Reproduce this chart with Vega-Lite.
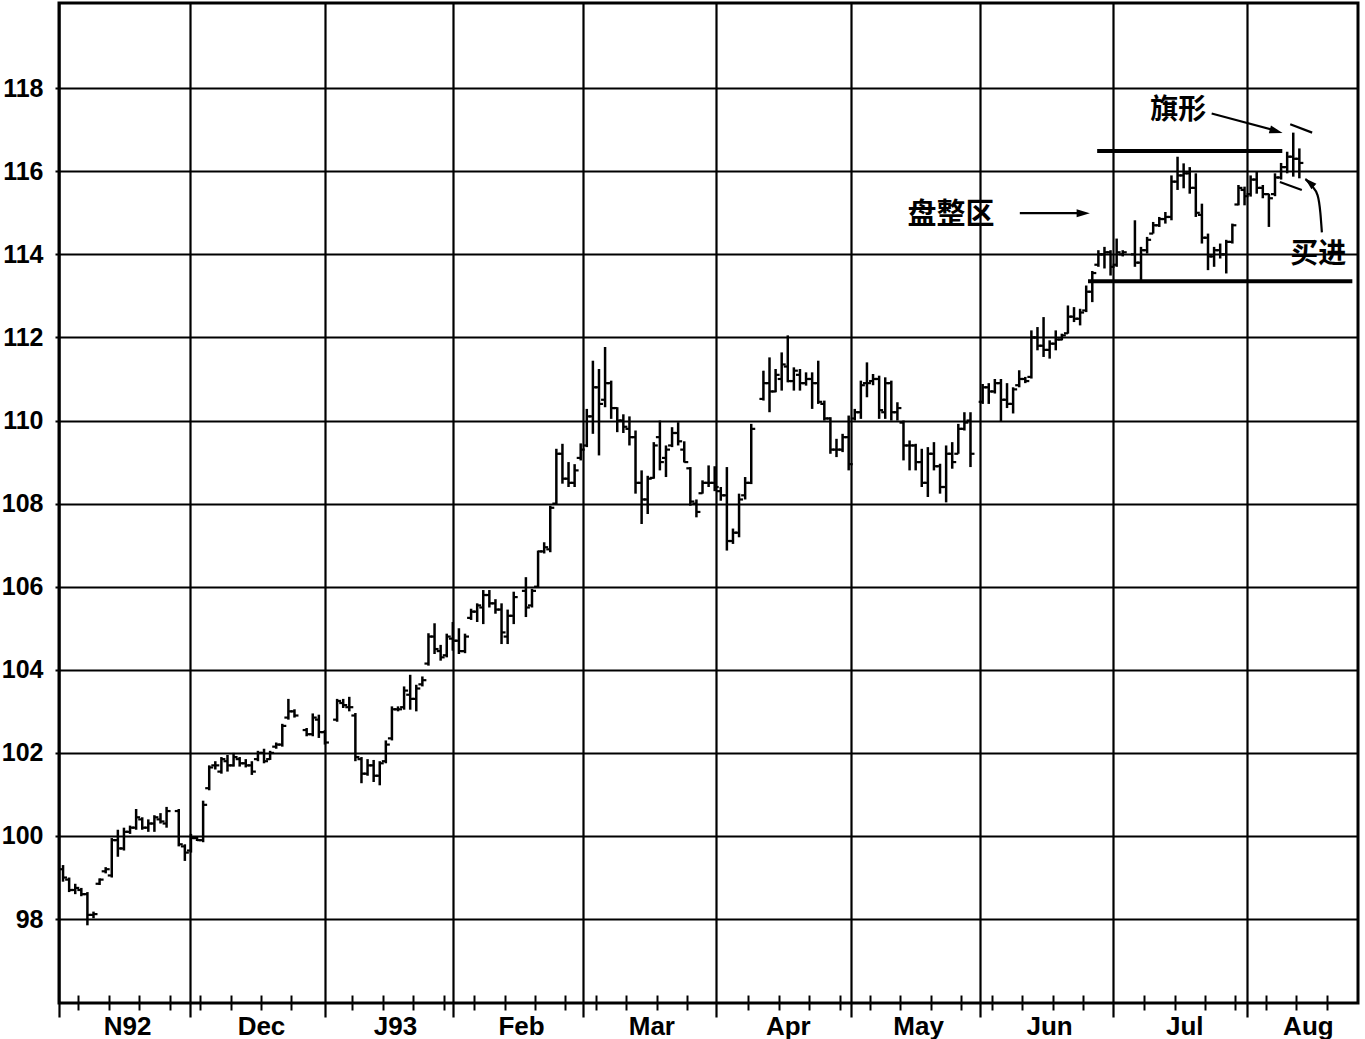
{
  "$schema": "https://vega.github.io/schema/vega-lite/v6.json",
  "width": 1299,
  "height": 1000,
  "autosize": {"type": "none"},
  "padding": {"left": 59, "top": 3, "right": 7, "bottom": 36},
  "background": "white",
  "config": {
    "view": {"stroke": "#000", "strokeWidth": 3},
    "axis": {"tickColor": "#000", "gridColor": "#000", "labelColor": "#000", "domain": false}
  },
  "datasets": {
    "bars": [
      {"w":0,"o":99.2,"h":99.3,"l":98.9,"c":99.0},
      {"w":1,"o":98.95,"h":99.0,"l":98.65,"c":98.7},
      {"w":2,"o":98.7,"h":98.85,"l":98.6,"c":98.75},
      {"w":3,"o":98.7,"h":98.75,"l":98.55,"c":98.6},
      {"w":4,"o":98.6,"h":98.65,"l":97.85,"c":98.1},
      {"w":5,"o":98.1,"h":98.18,"l":98.02,"c":98.12},
      {"w":6,"o":98.85,"h":98.98,"l":98.82,"c":98.95},
      {"w":7,"o":99.15,"h":99.25,"l":99.1,"c":99.2},
      {"w":8,"o":99.05,"h":99.95,"l":99.0,"c":99.9},
      {"w":9,"o":99.9,"h":100.15,"l":99.5,"c":99.7},
      {"w":10,"o":99.7,"h":100.2,"l":99.65,"c":100.1},
      {"w":11,"o":100.1,"h":100.25,"l":100.05,"c":100.2},
      {"w":12,"o":100.2,"h":100.65,"l":100.15,"c":100.45},
      {"w":13,"o":100.4,"h":100.45,"l":100.15,"c":100.2},
      {"w":14,"o":100.2,"h":100.4,"l":100.1,"c":100.3},
      {"w":15,"o":100.3,"h":100.5,"l":100.1,"c":100.45},
      {"w":16,"o":100.4,"h":100.55,"l":100.3,"c":100.35},
      {"w":17,"o":100.3,"h":100.7,"l":100.2,"c":100.6},
      {"w":19,"o":100.6,"h":100.65,"l":99.75,"c":99.8},
      {"w":20,"o":99.75,"h":99.8,"l":99.4,"c":99.6},
      {"w":21,"o":99.65,"h":100.05,"l":99.6,"c":99.95},
      {"w":22,"o":99.95,"h":100.0,"l":99.88,"c":99.9},
      {"w":23,"o":99.9,"h":100.85,"l":99.85,"c":100.75},
      {"w":24,"o":101.15,"h":101.7,"l":101.1,"c":101.65},
      {"w":25,"o":101.7,"h":101.8,"l":101.6,"c":101.7},
      {"w":26,"o":101.55,"h":101.9,"l":101.5,"c":101.85},
      {"w":27,"o":101.8,"h":101.95,"l":101.55,"c":101.7},
      {"w":28,"o":101.7,"h":102.0,"l":101.67,"c":101.9},
      {"w":29,"o":101.85,"h":101.9,"l":101.67,"c":101.75},
      {"w":30,"o":101.75,"h":101.85,"l":101.65,"c":101.7},
      {"w":31,"o":101.7,"h":101.8,"l":101.47,"c":101.55},
      {"w":32,"o":101.85,"h":102.05,"l":101.8,"c":102.0},
      {"w":33,"o":102.0,"h":102.1,"l":101.75,"c":101.8},
      {"w":34,"o":101.85,"h":102.05,"l":101.83,"c":102.0},
      {"w":35,"o":102.15,"h":102.25,"l":102.1,"c":102.2},
      {"w":36,"o":102.2,"h":102.7,"l":102.15,"c":102.65},
      {"w":37,"o":102.85,"h":103.3,"l":102.8,"c":103.0},
      {"w":38,"o":103.0,"h":103.05,"l":102.85,"c":102.9},
      {"w":40,"o":102.55,"h":102.6,"l":102.4,"c":102.45},
      {"w":41,"o":102.45,"h":102.95,"l":102.4,"c":102.85},
      {"w":42,"o":102.8,"h":102.92,"l":102.36,"c":102.5},
      {"w":43,"o":102.5,"h":102.55,"l":102.2,"c":102.25},
      {"w":45,"o":102.8,"h":103.3,"l":102.75,"c":103.25},
      {"w":46,"o":103.2,"h":103.3,"l":103.08,"c":103.15},
      {"w":47,"o":103.1,"h":103.35,"l":103.0,"c":103.1},
      {"w":48,"o":102.9,"h":102.96,"l":101.8,"c":101.9},
      {"w":49,"o":101.85,"h":101.9,"l":101.27,"c":101.5},
      {"w":50,"o":101.5,"h":101.85,"l":101.45,"c":101.7},
      {"w":51,"o":101.7,"h":101.83,"l":101.3,"c":101.45},
      {"w":52,"o":101.45,"h":101.8,"l":101.22,"c":101.75},
      {"w":53,"o":101.8,"h":102.3,"l":101.75,"c":102.2},
      {"w":54,"o":102.35,"h":103.12,"l":102.3,"c":103.05},
      {"w":55,"o":103.05,"h":103.12,"l":103.0,"c":103.05},
      {"w":56,"o":103.1,"h":103.6,"l":103.04,"c":103.5},
      {"w":57,"o":103.4,"h":103.88,"l":103.04,"c":103.3},
      {"w":58,"o":103.3,"h":103.64,"l":103.0,"c":103.55},
      {"w":59,"o":103.65,"h":103.84,"l":103.6,"c":103.75},
      {"w":60,"o":104.15,"h":104.88,"l":104.1,"c":104.8},
      {"w":61,"o":104.8,"h":105.12,"l":104.38,"c":104.5},
      {"w":62,"o":104.45,"h":104.6,"l":104.22,"c":104.3},
      {"w":63,"o":104.35,"h":104.87,"l":104.3,"c":104.8},
      {"w":64,"o":104.75,"h":105.15,"l":104.46,"c":104.7},
      {"w":65,"o":104.7,"h":105.0,"l":104.38,"c":104.45},
      {"w":66,"o":104.45,"h":104.87,"l":104.4,"c":104.8},
      {"w":67,"o":105.25,"h":105.47,"l":105.2,"c":105.4},
      {"w":68,"o":105.4,"h":105.6,"l":105.15,"c":105.55},
      {"w":69,"o":105.5,"h":105.92,"l":105.1,"c":105.8},
      {"w":70,"o":105.8,"h":105.92,"l":105.5,"c":105.6},
      {"w":71,"o":105.6,"h":105.7,"l":105.35,"c":105.45},
      {"w":72,"o":105.45,"h":105.6,"l":104.62,"c":104.9},
      {"w":73,"o":104.8,"h":105.45,"l":104.62,"c":105.3},
      {"w":74,"o":105.3,"h":105.88,"l":105.1,"c":105.75},
      {"w":76,"o":105.9,"h":106.23,"l":105.27,"c":105.5},
      {"w":77,"o":105.55,"h":105.95,"l":105.5,"c":105.9},
      {"w":78,"o":106.0,"h":106.87,"l":105.99,"c":106.85},
      {"w":79,"o":106.85,"h":107.07,"l":106.8,"c":106.95},
      {"w":80,"o":106.9,"h":107.95,"l":106.83,"c":107.9},
      {"w":81,"o":108.0,"h":109.32,"l":107.99,"c":109.2},
      {"w":82,"o":109.2,"h":109.44,"l":108.48,"c":108.6},
      {"w":83,"o":108.6,"h":109.0,"l":108.4,"c":108.5},
      {"w":84,"o":108.5,"h":108.95,"l":108.4,"c":108.8},
      {"w":85,"o":109.1,"h":109.45,"l":109.04,"c":109.3},
      {"w":86,"o":109.4,"h":110.28,"l":109.36,"c":110.1},
      {"w":87,"o":110.1,"h":111.44,"l":109.68,"c":110.8},
      {"w":88,"o":110.8,"h":111.24,"l":109.16,"c":110.4},
      {"w":89,"o":110.5,"h":111.77,"l":110.32,"c":110.9},
      {"w":90,"o":110.9,"h":110.96,"l":110.04,"c":110.3},
      {"w":91,"o":110.3,"h":110.32,"l":109.72,"c":110.0},
      {"w":92,"o":110.0,"h":110.15,"l":109.7,"c":109.85},
      {"w":93,"o":109.8,"h":110.1,"l":109.4,"c":109.6},
      {"w":94,"o":109.6,"h":109.76,"l":108.24,"c":108.5},
      {"w":95,"o":108.5,"h":108.8,"l":107.51,"c":108.1},
      {"w":96,"o":108.1,"h":108.67,"l":107.75,"c":108.6},
      {"w":97,"o":108.62,"h":109.48,"l":108.6,"c":109.4},
      {"w":98,"o":109.6,"h":110.0,"l":108.8,"c":109.0},
      {"w":99,"o":109.1,"h":109.4,"l":108.64,"c":109.3},
      {"w":100,"o":109.4,"h":109.84,"l":109.36,"c":109.7},
      {"w":101,"o":109.7,"h":109.96,"l":109.4,"c":109.5},
      {"w":102,"o":109.3,"h":109.5,"l":108.99,"c":109.0},
      {"w":103,"o":108.85,"h":108.88,"l":107.95,"c":108.05},
      {"w":104,"o":108.0,"h":108.1,"l":107.67,"c":107.8},
      {"w":105,"o":108.25,"h":108.56,"l":108.24,"c":108.5},
      {"w":106,"o":108.5,"h":108.92,"l":108.4,"c":108.5},
      {"w":107,"o":108.5,"h":108.9,"l":108.3,"c":108.4},
      {"w":108,"o":108.3,"h":108.4,"l":108.07,"c":108.2},
      {"w":109,"o":108.2,"h":108.88,"l":106.87,"c":107.1},
      {"w":110,"o":107.1,"h":107.4,"l":107.03,"c":107.3},
      {"w":111,"o":107.3,"h":108.24,"l":107.19,"c":108.1},
      {"w":112,"o":108.2,"h":108.64,"l":108.1,"c":108.5},
      {"w":113,"o":108.5,"h":109.92,"l":108.47,"c":109.8},
      {"w":115,"o":110.52,"h":111.2,"l":110.48,"c":110.9},
      {"w":116,"o":110.9,"h":111.52,"l":110.2,"c":110.7},
      {"w":117,"o":110.7,"h":111.24,"l":110.68,"c":111.1},
      {"w":118,"o":111.0,"h":111.64,"l":110.72,"c":111.35},
      {"w":119,"o":111.3,"h":112.05,"l":110.92,"c":110.95},
      {"w":120,"o":110.95,"h":111.28,"l":110.72,"c":111.2},
      {"w":121,"o":111.1,"h":111.24,"l":110.72,"c":110.9},
      {"w":122,"o":110.9,"h":111.16,"l":110.84,"c":111.0},
      {"w":123,"o":111.0,"h":111.16,"l":110.28,"c":110.9},
      {"w":124,"o":110.9,"h":111.44,"l":110.4,"c":110.45},
      {"w":125,"o":110.4,"h":110.48,"l":110.0,"c":110.05},
      {"w":126,"o":110.05,"h":110.08,"l":109.2,"c":109.3},
      {"w":127,"o":109.3,"h":109.56,"l":109.12,"c":109.3},
      {"w":128,"o":109.3,"h":109.68,"l":109.24,"c":109.6},
      {"w":129,"o":109.6,"h":110.12,"l":108.8,"c":108.95},
      {"w":130,"o":110.05,"h":110.28,"l":110.0,"c":110.2},
      {"w":131,"o":110.2,"h":110.96,"l":110.04,"c":110.85},
      {"w":132,"o":110.9,"h":111.4,"l":110.56,"c":110.9},
      {"w":133,"o":110.95,"h":111.12,"l":110.85,"c":111.0},
      {"w":134,"o":111.0,"h":111.08,"l":110.04,"c":110.25},
      {"w":135,"o":110.2,"h":111.04,"l":110.04,"c":110.9},
      {"w":136,"o":110.9,"h":110.96,"l":110.0,"c":110.2},
      {"w":137,"o":110.2,"h":110.44,"l":110.0,"c":110.3},
      {"w":138,"o":109.95,"h":110.0,"l":109.04,"c":109.4},
      {"w":139,"o":109.4,"h":109.52,"l":108.8,"c":109.4},
      {"w":140,"o":109.4,"h":109.44,"l":108.8,"c":109.0},
      {"w":141,"o":109.0,"h":109.32,"l":108.4,"c":108.5},
      {"w":142,"o":108.5,"h":109.36,"l":108.16,"c":109.2},
      {"w":143,"o":109.2,"h":109.48,"l":108.8,"c":108.9},
      {"w":144,"o":108.9,"h":108.96,"l":108.24,"c":108.4},
      {"w":145,"o":108.4,"h":109.4,"l":108.03,"c":109.2},
      {"w":146,"o":109.2,"h":109.48,"l":108.84,"c":109.0},
      {"w":147,"o":109.2,"h":109.92,"l":109.2,"c":109.8},
      {"w":148,"o":109.8,"h":110.2,"l":109.76,"c":109.95},
      {"w":149,"o":110.0,"h":110.2,"l":108.88,"c":109.2},
      {"w":151,"o":110.45,"h":110.88,"l":110.4,"c":110.8},
      {"w":152,"o":110.8,"h":110.9,"l":110.4,"c":110.7},
      {"w":153,"o":110.7,"h":111.0,"l":110.65,"c":110.9},
      {"w":154,"o":110.9,"h":111.0,"l":109.97,"c":110.5},
      {"w":155,"o":110.5,"h":110.9,"l":110.3,"c":110.4},
      {"w":156,"o":110.4,"h":110.8,"l":110.17,"c":110.75},
      {"w":157,"o":110.85,"h":111.21,"l":110.8,"c":111.0},
      {"w":158,"o":111.0,"h":111.05,"l":110.9,"c":110.95},
      {"w":159,"o":111.05,"h":112.17,"l":111.01,"c":112.0},
      {"w":160,"o":112.0,"h":112.25,"l":111.69,"c":111.8},
      {"w":161,"o":111.8,"h":112.49,"l":111.53,"c":111.7},
      {"w":162,"o":111.7,"h":111.93,"l":111.49,"c":111.85},
      {"w":163,"o":111.85,"h":112.17,"l":111.69,"c":111.95},
      {"w":164,"o":111.95,"h":112.09,"l":111.93,"c":112.05},
      {"w":165,"o":112.1,"h":112.77,"l":112.09,"c":112.5},
      {"w":166,"o":112.5,"h":112.73,"l":112.37,"c":112.45},
      {"w":167,"o":112.45,"h":112.69,"l":112.29,"c":112.6},
      {"w":168,"o":112.65,"h":113.25,"l":112.61,"c":113.1},
      {"w":169,"o":113.1,"h":113.6,"l":112.85,"c":113.55},
      {"w":170,"o":113.75,"h":114.1,"l":113.7,"c":114.0},
      {"w":171,"o":114.0,"h":114.18,"l":113.66,"c":114.05},
      {"w":172,"o":114.05,"h":114.1,"l":113.49,"c":113.7},
      {"w":173,"o":113.75,"h":114.38,"l":113.7,"c":114.05},
      {"w":174,"o":114.0,"h":114.1,"l":113.95,"c":114.05},
      {"w":176,"o":114.0,"h":114.82,"l":113.7,"c":113.8},
      {"w":177,"o":113.8,"h":114.18,"l":113.38,"c":114.1},
      {"w":178,"o":114.1,"h":114.42,"l":114.02,"c":114.35},
      {"w":179,"o":114.5,"h":114.78,"l":114.5,"c":114.7},
      {"w":180,"o":114.7,"h":114.9,"l":114.66,"c":114.85},
      {"w":181,"o":114.85,"h":115.02,"l":114.74,"c":114.9},
      {"w":182,"o":114.9,"h":115.9,"l":114.82,"c":115.75},
      {"w":183,"o":115.75,"h":116.35,"l":115.55,"c":115.9},
      {"w":184,"o":115.9,"h":116.19,"l":115.59,"c":115.95},
      {"w":185,"o":115.95,"h":116.1,"l":115.46,"c":115.6},
      {"w":186,"o":115.6,"h":115.95,"l":114.9,"c":115.0},
      {"w":187,"o":114.95,"h":115.22,"l":114.26,"c":114.4},
      {"w":188,"o":114.4,"h":114.5,"l":113.62,"c":113.95},
      {"w":189,"o":113.95,"h":114.18,"l":113.7,"c":114.1},
      {"w":190,"o":114.1,"h":114.26,"l":113.9,"c":114.0},
      {"w":191,"o":114.0,"h":114.35,"l":113.54,"c":114.3},
      {"w":192,"o":114.3,"h":114.74,"l":114.26,"c":114.7},
      {"w":193,"o":115.2,"h":115.67,"l":115.18,"c":115.6},
      {"w":194,"o":115.55,"h":115.63,"l":115.18,"c":115.4},
      {"w":195,"o":115.45,"h":115.9,"l":115.39,"c":115.8},
      {"w":196,"o":115.8,"h":116.0,"l":115.46,"c":115.6},
      {"w":197,"o":115.6,"h":115.67,"l":115.35,"c":115.45},
      {"w":198,"o":115.45,"h":115.46,"l":114.66,"c":115.35},
      {"w":199,"o":115.45,"h":115.95,"l":115.4,"c":115.85},
      {"w":200,"o":115.85,"h":116.2,"l":115.8,"c":116.1},
      {"w":201,"o":116.1,"h":116.47,"l":115.95,"c":116.35},
      {"w":202,"o":116.35,"h":116.93,"l":115.87,"c":116.3},
      {"w":203,"o":116.3,"h":116.55,"l":115.83,"c":116.2}
    ],
    "curve": [
      {"w":204.0,"v":115.81},
      {"w":205.1,"v":115.64},
      {"w":206.0,"v":115.42},
      {"w":206.45,"v":115.0},
      {"w":206.7,"v":114.53}
    ]
  },
  "resolve": {"axis": {"x": "independent", "y": "independent"}},
  "layer": [
    {
      "data": {"name": "bars"},
      "mark": {"type": "rule", "strokeWidth": 2.5, "color": "#000"},
      "encoding": {
        "x": {"field": "w", "type": "quantitative",
          "scale": {"domain": [-0.665, 212.63], "nice": false, "zero": false},
          "axis": {"orient": "bottom", "title": null, "values": [-0.6, 20.85, 43.0, 64.0, 85.4, 107.2, 129.4, 150.6, 172.4, 194.4],
            "grid": true, "gridColor": "#000", "gridWidth": 2.2, "gridOpacity": 1,
            "labels": false, "ticks": true, "tickSize": 14, "tickWidth": 2.2, "domain": false}},
        "y": {"field": "l", "type": "quantitative",
          "scale": {"domain": [95.98, 120.05], "nice": false, "zero": false},
          "axis": {"title": null, "values": [98, 100, 102, 104, 106, 108, 110, 112, 114, 116, 118],
            "grid": true, "gridColor": "#000", "gridWidth": 2.2, "gridOpacity": 1,
            "tickSize": 4, "tickWidth": 2, "labelFontSize": 25, "labelFont": "Liberation Sans",
            "labelFontWeight": "bold", "labelPadding": 12, "domain": false}},
        "y2": {"field": "h"}
      }
    },
    {
      "data": {"name": "bars"},
      "mark": {"type": "rule", "strokeWidth": 2.2, "color": "#000", "xOffset": -4},
      "encoding": {
        "x": {"field": "w", "type": "quantitative",
          "scale": {"domain": [-0.665, 212.63], "nice": false, "zero": false},
          "axis": {"orient": "bottom", "title": null,
            "values": [2.5,7.5,12.5,17.5,22.5,27.5,32.5,37.5,47.5,52.5,57.5,62.5,67.5,72.5,77.5,82.5,87.5,92.5,97.5,102.5,112.5,117.5,122.5,127.5,132.5,137.5,142.5,147.5,152.5,157.5,162.5,167.5,177.5,182.5,187.5,192.5,197.5,202.5,207.5],
            "grid": false, "labels": false, "ticks": true, "tickSize": 15, "tickWidth": 2, "offset": -8, "domain": false}},
        "x2": {"field": "w"},
        "y": {"field": "o", "type": "quantitative",
          "scale": {"domain": [95.98, 120.05], "nice": false, "zero": false}, "axis": null}
      }
    },
    {
      "data": {"name": "bars"},
      "mark": {"type": "rule", "strokeWidth": 2.2, "color": "#000", "x2Offset": 4},
      "encoding": {
        "x": {"field": "w", "type": "quantitative",
          "scale": {"domain": [-0.665, 212.63], "nice": false, "zero": false},
          "axis": {"orient": "bottom", "title": null,
            "values": [10.5, 32.5, 54.5, 75.2, 96.6, 119.0, 140.4, 161.9, 184.1, 204.4],
            "labelExpr": "datum.value < 20 ? 'N92' : datum.value < 43 ? 'Dec' : datum.value < 64 ? 'J93' : datum.value < 85 ? 'Feb' : datum.value < 107 ? 'Mar' : datum.value < 129 ? 'Apr' : datum.value < 150 ? 'May' : datum.value < 172 ? 'Jun' : datum.value < 194 ? 'Jul' : 'Aug'",
            "grid": false, "ticks": false, "tickSize": 0, "domain": false,
            "labelFontSize": 26, "labelFont": "Liberation Sans", "labelFontWeight": "bold",
            "labelPadding": 10, "labelFlush": false, "labelOverlap": false, "labelBound": false}},
        "x2": {"field": "w"},
        "y": {"field": "c", "type": "quantitative",
          "scale": {"domain": [95.98, 120.05], "nice": false, "zero": false}, "axis": null}
      }
    },
    {
      "data": {"values": [{}]},
      "mark": {"type": "rule", "strokeWidth": 4, "color": "#000"},
      "encoding": {
        "x": {"datum": 169.8, "type": "quantitative", "scale": {"domain": [-0.665, 212.63], "nice": false, "zero": false}, "axis": null},
        "x2": {"datum": 200.2},
        "y": {"datum": 116.49, "type": "quantitative", "scale": {"domain": [95.98, 120.05], "nice": false, "zero": false}, "axis": null}
      }
    },
    {
      "data": {"values": [{}]},
      "mark": {"type": "rule", "strokeWidth": 4, "color": "#000"},
      "encoding": {
        "x": {"datum": 168.3, "type": "quantitative", "scale": {"domain": [-0.665, 212.63], "nice": false, "zero": false}, "axis": null},
        "x2": {"datum": 211.7},
        "y": {"datum": 113.35, "type": "quantitative", "scale": {"domain": [95.98, 120.05], "nice": false, "zero": false}, "axis": null}
      }
    },
    {
      "data": {"values": [{}]},
      "mark": {"type": "rule", "strokeWidth": 2.2, "color": "#000"},
      "encoding": {
        "x": {"datum": 201.5, "type": "quantitative", "scale": {"domain": [-0.665, 212.63], "nice": false, "zero": false}, "axis": null},
        "x2": {"datum": 205.1},
        "y": {"datum": 117.13, "type": "quantitative", "scale": {"domain": [95.98, 120.05], "nice": false, "zero": false}, "axis": null},
        "y2": {"datum": 116.93}
      }
    },
    {
      "data": {"values": [{}]},
      "mark": {"type": "rule", "strokeWidth": 2.2, "color": "#000"},
      "encoding": {
        "x": {"datum": 199.8, "type": "quantitative", "scale": {"domain": [-0.665, 212.63], "nice": false, "zero": false}, "axis": null},
        "x2": {"datum": 203.4},
        "y": {"datum": 115.74, "type": "quantitative", "scale": {"domain": [95.98, 120.05], "nice": false, "zero": false}, "axis": null},
        "y2": {"datum": 115.55}
      }
    },
    {
      "data": {"values": [{}]},
      "mark": {"type": "rule", "strokeWidth": 2.2, "color": "#000"},
      "encoding": {
        "x": {"datum": 188.6, "type": "quantitative", "scale": {"domain": [-0.665, 212.63], "nice": false, "zero": false}, "axis": null},
        "x2": {"datum": 199.4},
        "y": {"datum": 117.39, "type": "quantitative", "scale": {"domain": [95.98, 120.05], "nice": false, "zero": false}, "axis": null},
        "y2": {"datum": 116.97}
      }
    },
    {
      "data": {"values": [{}]},
      "mark": {"type": "rule", "strokeWidth": 2.2, "color": "#000"},
      "encoding": {
        "x": {"datum": 157.1, "type": "quantitative", "scale": {"domain": [-0.665, 212.63], "nice": false, "zero": false}, "axis": null},
        "x2": {"datum": 167.6},
        "y": {"datum": 114.99, "type": "quantitative", "scale": {"domain": [95.98, 120.05], "nice": false, "zero": false}, "axis": null}
      }
    },
    {
      "data": {"name": "curve"},
      "mark": {"type": "line", "strokeWidth": 2.2, "color": "#000", "interpolate": "monotone"},
      "encoding": {
        "x": {"field": "w", "type": "quantitative", "scale": {"domain": [-0.665, 212.63], "nice": false, "zero": false}, "axis": null},
        "y": {"field": "v", "type": "quantitative", "scale": {"domain": [95.98, 120.05], "nice": false, "zero": false}, "axis": null}
      }
    },
    {
      "data": {"values": [{}]},
      "mark": {"type": "point", "shape": "M0,0L-1,-0.3L-1,0.3Z", "size": 700, "filled": true, "color": "#000", "opacity": 1, "angle": 16},
      "encoding": {
        "x": {"datum": 200.25, "type": "quantitative", "scale": {"domain": [-0.665, 212.63], "nice": false, "zero": false}, "axis": null},
        "y": {"datum": 116.92, "type": "quantitative", "scale": {"domain": [95.98, 120.05], "nice": false, "zero": false}, "axis": null}
      }
    },
    {
      "data": {"values": [{}]},
      "mark": {"type": "point", "shape": "M0,0L-1,-0.3L-1,0.3Z", "size": 700, "filled": true, "color": "#000", "opacity": 1, "angle": 0},
      "encoding": {
        "x": {"datum": 168.6, "type": "quantitative", "scale": {"domain": [-0.665, 212.63], "nice": false, "zero": false}, "axis": null},
        "y": {"datum": 114.99, "type": "quantitative", "scale": {"domain": [95.98, 120.05], "nice": false, "zero": false}, "axis": null}
      }
    },
    {
      "data": {"values": [{}]},
      "mark": {"type": "point", "shape": "M0,0L-1,-0.3L-1,0.3Z", "size": 600, "filled": true, "color": "#000", "opacity": 1, "angle": 222},
      "encoding": {
        "x": {"datum": 203.9, "type": "quantitative", "scale": {"domain": [-0.665, 212.63], "nice": false, "zero": false}, "axis": null},
        "y": {"datum": 115.83, "type": "quantitative", "scale": {"domain": [95.98, 120.05], "nice": false, "zero": false}, "axis": null}
      }
    },
    {
      "data": {"values": [{}]},
      "mark": {"type": "text", "font": "Noto Sans CJK SC", "fontSize": 28, "fontWeight": "bold", "color": "#000", "align": "center", "baseline": "middle"},
      "encoding": {
        "x": {"datum": 183.1, "type": "quantitative", "scale": {"domain": [-0.665, 212.63], "nice": false, "zero": false}, "axis": null},
        "y": {"datum": 117.45, "type": "quantitative", "scale": {"domain": [95.98, 120.05], "nice": false, "zero": false}, "axis": null},
        "text": {"value": "旗形"}
      }
    },
    {
      "data": {"values": [{}]},
      "mark": {"type": "text", "font": "Noto Sans CJK SC", "fontSize": 29, "fontWeight": "bold", "color": "#000", "align": "center", "baseline": "middle"},
      "encoding": {
        "x": {"datum": 145.8, "type": "quantitative", "scale": {"domain": [-0.665, 212.63], "nice": false, "zero": false}, "axis": null},
        "y": {"datum": 114.94, "type": "quantitative", "scale": {"domain": [95.98, 120.05], "nice": false, "zero": false}, "axis": null},
        "text": {"value": "盘整区"}
      }
    },
    {
      "data": {"values": [{}]},
      "mark": {"type": "text", "font": "Noto Sans CJK SC", "fontSize": 28, "fontWeight": "bold", "color": "#000", "align": "center", "baseline": "middle"},
      "encoding": {
        "x": {"datum": 206.1, "type": "quantitative", "scale": {"domain": [-0.665, 212.63], "nice": false, "zero": false}, "axis": null},
        "y": {"datum": 113.98, "type": "quantitative", "scale": {"domain": [95.98, 120.05], "nice": false, "zero": false}, "axis": null},
        "text": {"value": "买进"}
      }
    }
  ]
}
